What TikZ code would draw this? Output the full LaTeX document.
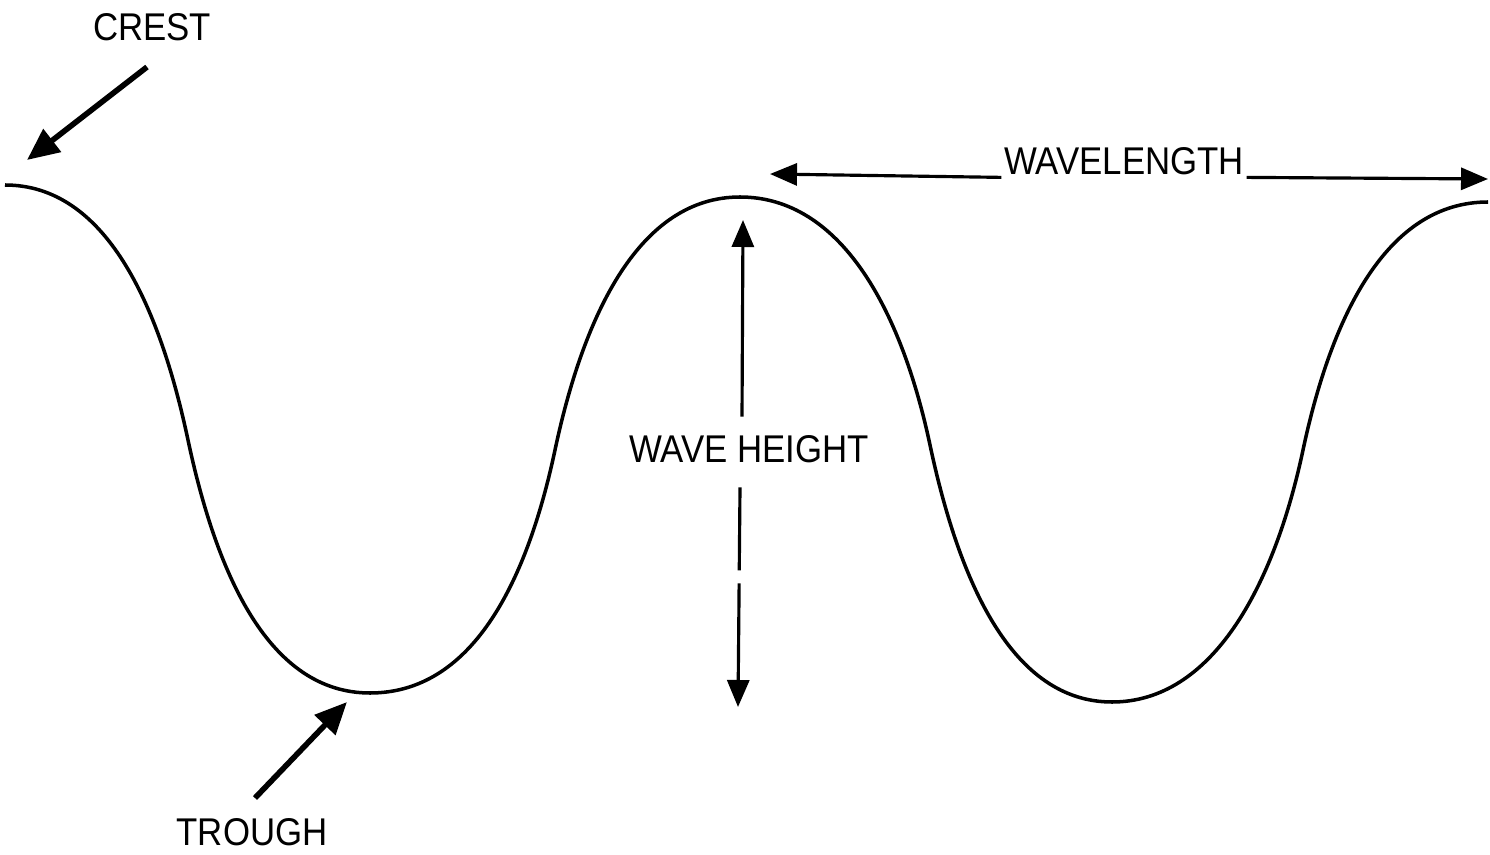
\documentclass[tikz,border=0pt]{standalone}
\usepackage{fontspec}
\setmainfont[FakeStretch=0.9]{Liberation Sans}
\usetikzlibrary{arrows.meta, positioning}

\begin{document}
\begin{tikzpicture}[
    >={Triangle[length=0.27cm, width=0.22cm]},
    tag/.style={inner sep=0pt, font=\fontsize{11}{13}\selectfont},
    wave/.style={draw, line width=1pt},
    pointer/.style={draw, ->, line width=1.6pt, >={Triangle[length=0.32cm, width=0.28cm]}},
    dimline/.style={draw, ->, line width=0.9pt}
  ]
    \useasboundingbox (0,0) rectangle (14.90,8.54);

    \coordinate (crest1) at (0.05,6.69);
    \coordinate (infl1) at (1.88,4.14);
    \coordinate (trough1) at (3.70,1.61);
    \coordinate (infl2) at (5.55,4.04);
    \coordinate (crest2) at (7.40,6.57);
    \coordinate (infl3) at (9.30,4.09);
    \coordinate (trough2) at (11.12,1.52);
    \coordinate (infl4) at (13.03,4.04);
    \coordinate (crest3) at (14.88,6.52);
    \draw[wave] (crest1) .. controls +(1.0,0) and +(102:1.4) .. (infl1)
                         .. controls +(-78:1.4) and +(-1.0,0) .. (trough1)
                         .. controls +(1.0,0) and +(258:1.4) .. (infl2)
                         .. controls +(78:1.4) and +(-1.0,0) .. (crest2)
                         .. controls +(1.0,0) and +(102:1.4) .. (infl3)
                         .. controls +(-78:1.4) and +(-1.0,0) .. (trough2)
                         .. controls +(1.0,0) and +(258:1.4) .. (infl4)
                         .. controls +(78:1.4) and +(-1.0,0) .. (crest3);

    \node (crest) [tag] at (1.52,8.27) {CREST};
    \coordinate (crest_tail) at (1.47,7.87);
    \coordinate (crest_tip) at (0.27,6.94);
    \draw[pointer] (crest_tail) -- (crest_tip);

    \node (trough) [tag] at (2.52,0.22) {TROUGH};
    \coordinate (trough_tail) at (2.55,0.56);
    \coordinate (trough_tip) at (3.47,1.52);
    \draw[pointer] (trough_tail) -- (trough_tip);

    \node (wavelength) [tag, inner sep=0.02cm] at (11.24,6.93) {WAVELENGTH};
    \coordinate (wl_left) at (7.70,6.80);
    \coordinate (wl_right) at (14.88,6.75);
    \draw[dimline] (wavelength.south west) -- (wl_left);
    \draw[dimline] (wavelength.south east) -- (wl_right);

    \node (waveheight) [tag, inner sep=0.18cm] at (7.49,4.05) {WAVE HEIGHT};
    \coordinate (wh_top) at (7.43,6.34);
    \coordinate (wh_bottom) at (7.38,1.47);
    \draw[dimline] ([xshift=-0.07cm]waveheight.north) -- (wh_top);
    \draw[dimline, dash pattern=on 0.83cm off 0.13cm on 3cm] ([xshift=-0.09cm, yshift=-0.06cm]waveheight.south) -- (wh_bottom);
\end{tikzpicture}
\end{document}
